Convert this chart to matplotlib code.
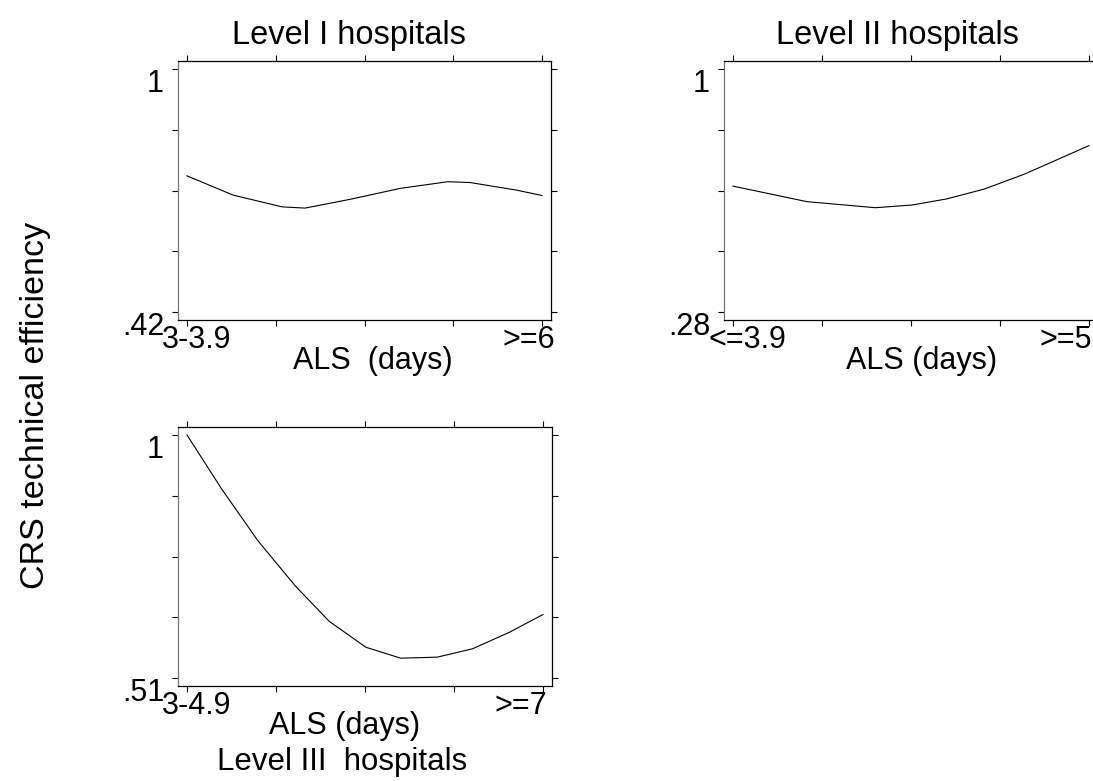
import matplotlib
matplotlib.use("Agg")
import matplotlib.pyplot as plt
import matplotlib.transforms as mtransforms
import numpy as np

plt.rcParams['font.family'] = ['Liberation Sans', 'DejaVu Sans']

# smoothed CRS efficiency vs ALS category position (0 = first group, 4 = last group)
lev1_x = [0, 0.52, 1.07, 1.33, 1.84, 2.40, 2.94, 3.19, 3.71, 4.0]
lev1_y = [0.745, 0.699, 0.671, 0.668, 0.689, 0.715, 0.731, 0.729, 0.711, 0.698]

lev2_x = [0, 0.83, 1.60, 2.01, 2.40, 2.82, 3.27, 4.0]
lev2_y = [0.653, 0.607, 0.589, 0.597, 0.615, 0.644, 0.688, 0.773]

lev3_x = [0, 0.39, 0.80, 1.22, 1.60, 2.01, 2.40, 2.81, 3.21, 3.62, 4.0]
lev3_y = [1.0, 0.891, 0.786, 0.695, 0.624, 0.572, 0.550, 0.552, 0.569, 0.602, 0.638]

lev1_xlab = ['3-3.9', '', '', '', '>=6']
lev2_xlab = ['<=3.9', '', '', '', '>=5']
lev3_xlab = ['3-4.9', '', '', '', '>=7']

W, H = 1093, 781
fig = plt.figure(figsize=(W / 100, H / 100), dpi=100)


def px_axes(left, right, top, bottom):
    return fig.add_axes([left / W, (H - bottom) / H, (right - left) / W, (bottom - top) / H])


def shift(txt, dx, dy):
    # dx, dy in pixels
    txt.set_transform(txt.get_transform() +
                      mtransforms.ScaledTranslation(dx / 100, dy / 100, fig.dpi_scale_trans))


def panel(ax, xs, ys, ymin, ymax, xlabels, first_dx, last_dx, right_ticks=True):
    ax.plot(xs, ys, color='black', lw=0.8)
    ax.set_xlim(-0.101, 4.101)
    span = ymax - ymin
    pad = span * 8 / 243
    ax.set_ylim(ymin - pad, ymax + pad)
    ax.set_xticks(range(5))
    ax.set_xticklabels(xlabels, fontsize=22)
    ax.set_yticks(np.linspace(ymin, ymax, 5))
    lo = ('%.2f' % ymin).lstrip('0')
    ax.set_yticklabels([lo, '', '', '', '1'], fontsize=22, va='top')
    ax.tick_params(direction='out', length=4, width=0.8, top=True, right=right_ticks)
    ax.tick_params(axis='x', pad=-0.5)
    ax.tick_params(axis='y', pad=6)
    for s in ax.spines.values():
        s.set_linewidth(0.9)
        s.set_color('black')
    ax.spines['left'].set_color('#777777')
    labs = ax.get_xticklabels()
    shift(labs[0], first_dx, 0)
    shift(labs[-1], last_dx, 0)


ax1 = px_axes(178, 551, 61, 320)
panel(ax1, lev1_x, lev1_y, 0.42, 1.0, lev1_xlab, 10, -13)
ax1.set_title('Level I hospitals', fontsize=23.5, pad=12, x=0.457)
ax1.set_xlabel('ALS  (days)', fontsize=22, va='top')
ax1.xaxis.set_label_coords(0.523, -0.1, transform=ax1.transAxes)

ax2 = px_axes(724, 1098, 61, 320)
panel(ax2, lev2_x, lev2_y, 0.28, 1.0, lev2_xlab, 14, -23, right_ticks=False)
ax2.set_title('Level II hospitals', fontsize=23.5, pad=12, x=0.463)
ax2.set_xlabel('ALS (days)', fontsize=22, va='top')
ax2.xaxis.set_label_coords(0.527, -0.1, transform=ax2.transAxes)

ax3 = px_axes(178, 552, 427, 686)
panel(ax3, lev3_x, lev3_y, 0.51, 1.0, lev3_xlab, 10, -22)
ax3.set_xlabel('ALS (days)', fontsize=22, va='top')
ax3.xaxis.set_label_coords(0.446, -0.097, transform=ax3.transAxes)
ax3.text(0.44, -0.235, 'Level III  hospitals', transform=ax3.transAxes,
         fontsize=22.5, ha='center', va='top')

fig.text(36 / W, 1 - 405 / H, 'CRS technical efficiency', rotation=90,
         fontsize=24.5, ha='center', va='center')

fig.savefig('out.png', dpi=100)
